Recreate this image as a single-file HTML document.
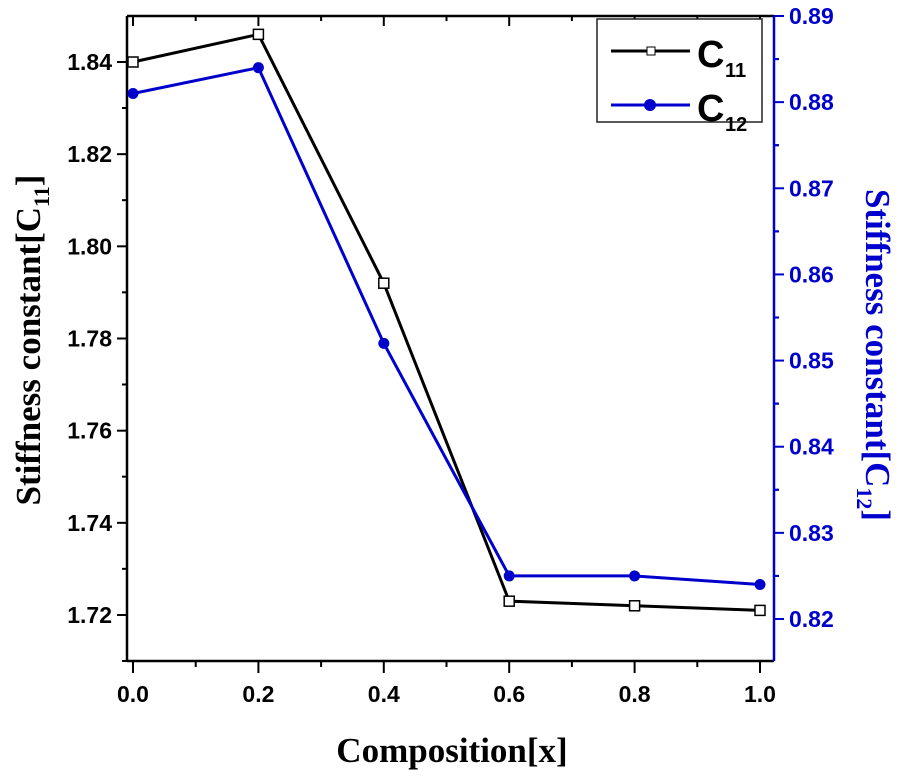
<!DOCTYPE html>
<html><head><meta charset="utf-8"><style>body{margin:0;background:#fff}svg{display:block}</style></head>
<body>
<svg id="chart" width="899" height="782" viewBox="0 0 899 782" xmlns="http://www.w3.org/2000/svg" font-family="Liberation Sans, Arial, sans-serif">
<g id="axes"></g>
<g id="series"></g>
<rect x="597" y="19" width="165" height="103" fill="#fff" stroke="#222" stroke-width="1.5"/>
<g>
<line x1="611" y1="51" x2="690" y2="51" stroke="#000" stroke-width="3"/>
<rect x="647" y="47" width="8" height="8" fill="#fff" stroke="#000" stroke-width="1"/>
<text x="697" y="67" font-size="38" font-weight="bold">C</text><text x="725" y="77" font-size="20" font-weight="bold">11</text>
</g>
<g>
<line x1="611" y1="105" x2="690" y2="105" stroke="#00c" stroke-width="3"/>
<circle cx="650" cy="105" r="6" fill="#00c"/>
<text x="697" y="121" font-size="38" font-weight="bold">C</text><text x="725" y="131" font-size="20" font-weight="bold">12</text>
</g>
<text x="452" y="762" text-anchor="middle" font-family="Liberation Serif, serif" font-size="35" font-weight="bold">Composition[x]</text>
<text transform="translate(40,340) rotate(-90)" text-anchor="middle" font-family="Liberation Serif, serif" font-size="35" font-weight="bold">Stiffness constant[C<tspan font-size="22" dy="9">11</tspan><tspan dy="-9">]</tspan></text>
<text transform="translate(866,355) rotate(90)" text-anchor="middle" font-family="Liberation Serif, serif" font-size="35" font-weight="bold" fill="#00c">Stiffness constant[C<tspan font-size="22" dy="9">12</tspan><tspan dy="-9">]</tspan></text>
</svg>
<script>
const xValues=[0,0.2,0.4,0.6,0.8,1.0];
const c11Values=[1.840,1.846,1.792,1.723,1.722,1.721];
const c12Values=[0.881,0.884,0.852,0.825,0.825,0.824];
const xTicks=["0.0","0.2","0.4","0.6","0.8","1.0"];
const leftTicks=["1.72","1.74","1.76","1.78","1.80","1.82","1.84"];
const rightTicks=["0.82","0.83","0.84","0.85","0.86","0.87","0.88","0.89"];
const NS="http://www.w3.org/2000/svg";
const L=127,R=774,T=16,B=661;
const xs=v=>133+(v-0)*(760-133)/1.0;
const yL=v=>615-(v-1.72)*(615-62)/0.12;
const yR=v=>619-(v-0.82)*(619-16)/0.07;
function mk(tag,attrs,parent){const e=document.createElementNS(NS,tag);for(const k in attrs)e.setAttribute(k,attrs[k]);parent.appendChild(e);return e;}
const ax=document.getElementById('axes'),se=document.getElementById('series');
let e;
e=mk('line',{x1:L,y1:T,x2:R,y2:T,stroke:'#000','stroke-width':2.5},ax);


e=mk('line',{x1:L,y1:T,x2:L,y2:B,stroke:'#000','stroke-width':2.5},ax);


e=mk('line',{x1:L,y1:B,x2:R,y2:B,stroke:'#000','stroke-width':2.5},ax);


e=mk('line',{x1:R,y1:T,x2:R,y2:B,stroke:'#00c','stroke-width':2.5},ax);


for(let i=0;i<=10;i++){const v=i/10,x=xs(v),maj=i%2==0;
 mk('line',{x1:x,y1:B,x2:x,y2:B+(maj?12:6),stroke:'#000','stroke-width':2},ax);
 mk('line',{x1:x,y1:T,x2:x,y2:T+(maj?10:5),stroke:'#000','stroke-width':2},ax);}
xTicks.forEach((t,i)=>{e=mk('text',{x:xs(xValues[i]),y:702,'text-anchor':'middle','font-size':23,'font-weight':'bold'},ax);e.textContent=t;

});
leftTicks.forEach(t=>{const y=yL(parseFloat(t));mk('line',{x1:L-10,y1:y,x2:L,y2:y,stroke:'#000','stroke-width':2},ax);
 mk('line',{x1:L-5,y1:y+46,x2:L,y2:y+46,stroke:'#000','stroke-width':2},ax);
 e=mk('text',{x:L-15,y:y+8,'text-anchor':'end','font-size':23,'font-weight':'bold'},ax);e.textContent=t;
 
 });
rightTicks.forEach(t=>{const y=yR(parseFloat(t));mk('line',{x1:R,y1:y,x2:R+10,y2:y,stroke:'#00c','stroke-width':2},ax);
 if(y+43<B)mk('line',{x1:R,y1:y+43,x2:R+5,y2:y+43,stroke:'#00c','stroke-width':2},ax);
 if(y-43>T)mk('line',{x1:R,y1:y-43,x2:R+5,y2:y-43,stroke:'#00c','stroke-width':2},ax);
 e=mk('text',{x:R+15,y:y+8,'font-size':23,'font-weight':'bold',fill:'#00c'},ax);e.textContent=t;
 
 });
e=mk('polyline',{points:xValues.map((v,i)=>xs(v)+','+yL(c11Values[i])).join(' '),fill:'none',stroke:'#000','stroke-width':3},se);


e=mk('polyline',{points:xValues.map((v,i)=>xs(v)+','+yR(c12Values[i])).join(' '),fill:'none',stroke:'#00c','stroke-width':3},se);


xValues.forEach((v,i)=>{e=mk('rect',{x:xs(v)-5,y:yL(c11Values[i])-5,width:10,height:10,fill:'#fff',stroke:'#000','stroke-width':1.5},se);
 
 
 e=mk('circle',{cx:xs(v),cy:yR(c12Values[i]),r:5.5,fill:'#00c'},se);
 
 });
</script>
</body></html>
